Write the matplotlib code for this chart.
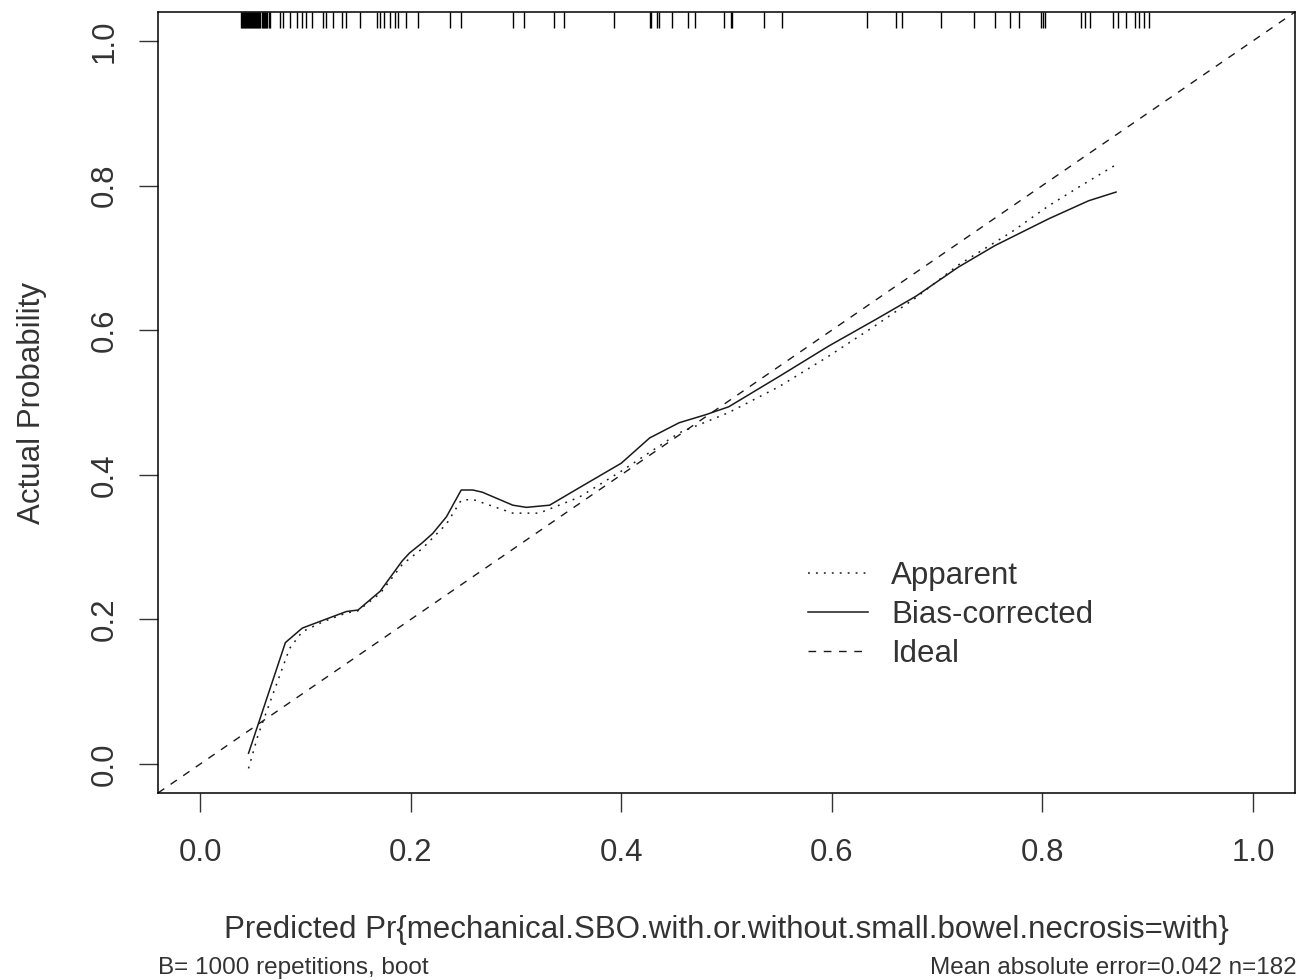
import matplotlib
matplotlib.use('Agg')
import matplotlib.pyplot as plt
import numpy as np

plt.rcParams['font.family'] = ['Liberation Sans', 'DejaVu Sans']

# Curva corregida (bias-corrected)
bc_x = [0.046, 0.081, 0.097, 0.117, 0.139, 0.150, 0.171, 0.192, 0.199, 0.211,
        0.221, 0.234, 0.248, 0.259, 0.268, 0.297, 0.310, 0.332, 0.360, 0.400,
        0.427, 0.455, 0.480, 0.502, 0.550, 0.597, 0.642, 0.680, 0.720, 0.755,
        0.806, 0.844, 0.870]
bc_y = [0.015, 0.168, 0.188, 0.199, 0.211, 0.213, 0.239, 0.281, 0.292, 0.306,
        0.319, 0.342, 0.379, 0.379, 0.376, 0.358, 0.355, 0.358, 0.382, 0.416,
        0.451, 0.472, 0.483, 0.494, 0.536, 0.578, 0.615, 0.647, 0.687, 0.717,
        0.754, 0.779, 0.791]

# Curva aparente
ap_x = [0.046, 0.055, 0.085, 0.097, 0.117, 0.139, 0.150, 0.171, 0.192, 0.211,
        0.234, 0.248, 0.259, 0.297, 0.322, 0.360, 0.400, 0.455, 0.502, 0.550,
        0.597, 0.642, 0.680, 0.720, 0.771, 0.806, 0.837, 0.869]
ap_y = [-0.006, 0.040, 0.160, 0.183, 0.197, 0.209, 0.212, 0.236, 0.276, 0.298,
        0.332, 0.365, 0.366, 0.347, 0.347, 0.369, 0.405, 0.458, 0.486, 0.522,
        0.564, 0.607, 0.645, 0.690, 0.736, 0.772, 0.800, 0.828]

# Predicciones (rug superior)
rug_x = [0.039, 0.040, 0.041, 0.042, 0.043, 0.044, 0.045, 0.0455, 0.046, 0.047,
         0.048, 0.049, 0.050, 0.051, 0.052, 0.053, 0.054, 0.055, 0.056, 0.057,
         0.059, 0.060, 0.061, 0.062, 0.063, 0.064, 0.065, 0.066,
         0.076, 0.079, 0.085, 0.092, 0.097, 0.101, 0.106, 0.117, 0.120, 0.126,
         0.135, 0.139, 0.152, 0.168, 0.171, 0.175, 0.180, 0.185, 0.188, 0.196,
         0.207, 0.237, 0.248, 0.297, 0.308, 0.336, 0.346, 0.393, 0.427, 0.428,
         0.434, 0.436, 0.448, 0.463, 0.470, 0.498, 0.504, 0.505, 0.536, 0.553,
         0.633, 0.661, 0.667, 0.704, 0.735, 0.755, 0.769, 0.778, 0.799, 0.801,
         0.803, 0.837, 0.841, 0.845, 0.867, 0.872, 0.879, 0.888, 0.892, 0.897,
         0.901]

ticks = [0.0, 0.2, 0.4, 0.6, 0.8, 1.0]
tick_labels = ['0.0', '0.2', '0.4', '0.6', '0.8', '1.0']

LINE = '#1a1a1a'
TEXT = '#333333'

fig = plt.figure(figsize=(13.09, 9.8), dpi=100)
ax = fig.add_axes([158 / 1309, 1 - 793 / 980, (1295 - 158) / 1309, (793 - 12) / 980])

ax.axline((0, 0), (1, 1), color=LINE, lw=1.0, linestyle=(0, (5.5, 5.5)), label='Ideal')
ax.plot(ap_x, ap_y, color=LINE, lw=1.1, linestyle=(0, (1.2, 4.0)), label='Apparent')
ax.plot(bc_x, bc_y, color=LINE, lw=1.1, linestyle='-', label='Bias-corrected')
ax.vlines(rug_x, 1.018, 1.04, color='black', lw=1.0)

ax.set_xlim(-0.04, 1.04)
ax.set_ylim(-0.04, 1.04)
ax.set_xticks(ticks)
ax.set_xticklabels(tick_labels)
ax.set_yticks(ticks)
ax.set_yticklabels(tick_labels, rotation=90, va='center')
ax.tick_params(axis='both', length=13.5, width=1.0, color='#333333',
               labelsize=22.5, labelcolor=TEXT, pad=14)
ax.tick_params(axis='x', pad=19)
for s in ax.spines.values():
    s.set_linewidth(1.1)
    s.set_color('black')

ax.set_xlabel('Predicted Pr{mechanical.SBO.with.or.without.small.bowel.necrosis=with}',
              fontsize=22.5, color=TEXT, labelpad=34)
ax.set_ylabel('Actual Probability', fontsize=22.5, color=TEXT, labelpad=31)

# Leyenda
h = ax.get_legend_handles_labels()[0]
order = [1, 2, 0]
ax.legend([h[i] for i in order], ['Apparent', 'Bias-corrected', 'Ideal'],
          loc='upper left', bbox_to_anchor=(0.572, 0.297), frameon=False,
          fontsize=22.5, handlelength=1.9, handletextpad=0.75,
          labelspacing=0.29, borderpad=0, borderaxespad=0, labelcolor=TEXT)

fig.text(158 / 1309, 1 - 968 / 980, 'B= 1000 repetitions, boot',
         fontsize=17.5, color=TEXT, ha='left', va='center')
fig.text(1297 / 1309, 1 - 968 / 980, 'Mean absolute error=0.042 n=182',
         fontsize=17.5, color=TEXT, ha='right', va='center')

plt.savefig('out.png', dpi=100)
